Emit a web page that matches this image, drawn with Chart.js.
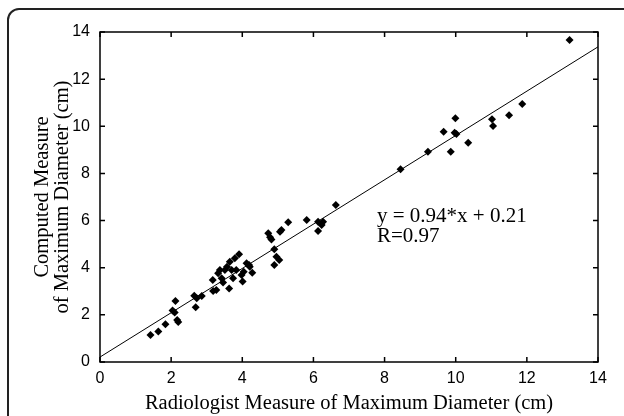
<!DOCTYPE html>
<html>
<head>
<meta charset="utf-8">
<script src="https://cdn.jsdelivr.net/npm/chart.js@4/dist/chart.umd.min.js"></script>
<style>
  html, body { margin: 0; padding: 0; background: #fff; overflow: hidden; }
  #wrap { position: relative; width: 624px; height: 416px; }
  #frame { position: absolute; left: 7px; top: 8px; width: 640px; height: 440px;
           border: 2px solid #222; border-radius: 12px; box-sizing: border-box; }
  canvas { position: absolute; left: 0; top: 0; }
</style>
</head>
<body>
<div id="wrap">
  <div id="frame"></div>
  <canvas id="canvasScatter" width="624" height="416"></canvas>
</div>
<script>
// radiologist measure (x) vs computed measure (y), cm
var radiologist = [1.42, 1.64, 1.84, 2.04, 2.10, 2.12, 2.17, 2.20,
  2.65, 2.69, 2.72, 2.86,
  3.17, 3.18, 3.27, 3.32, 3.37, 3.42, 3.46, 3.51, 3.57, 3.63, 3.65, 3.70, 3.74, 3.79, 3.83, 3.91, 3.98, 4.01, 4.04, 4.12, 4.19, 4.21, 4.28,
  4.73, 4.78, 4.82, 4.90, 4.96, 5.04, 4.90, 5.06, 5.10, 5.29, 5.81, 6.13, 6.23, 6.27, 6.13, 6.63,
  8.45, 9.22, 9.66, 9.86, 9.99, 9.97, 10.02, 10.35, 11.02, 11.05, 11.50, 11.87, 13.20];
var computed = [1.15, 1.29, 1.60, 2.18, 2.10, 2.59, 1.78, 1.70,
  2.81, 2.32, 2.70, 2.80,
  3.48, 3.01, 3.05, 3.76, 3.90, 3.55, 3.37, 3.90, 4.04, 3.12, 4.25, 3.90, 3.55, 4.40, 3.90, 4.57, 3.69, 3.41, 3.83, 4.19, 4.11, 4.04, 3.79,
  5.46, 5.29, 5.20, 4.78, 4.47, 4.33, 4.11, 5.53, 5.60, 5.93, 6.02, 5.95, 5.81, 5.95, 5.56, 6.66,
  8.18, 8.92, 9.77, 8.92, 10.34, 9.73, 9.67, 9.30, 10.30, 10.01, 10.47, 10.95, 13.66];
var tickValues = [0, 2, 4, 6, 8, 10, 12, 14];
var fitSlope = 0.94;
var fitIntercept = 0.21;
var fitRange = [0, 14];

var points = [];
for (var i in radiologist) {
  points.push({x: radiologist[i], y: computed[i]});
}
var fitLine = [];
for (var j in fitRange) {
  fitLine.push({x: fitRange[j], y: fitSlope * fitRange[j] + fitIntercept});
}

// box with inward ticks on all four sides, plus the fit text
var boxPlugin = {
  id: 'boxPlugin',
  afterDatasetsDraw: function(chart) {
    var ctx = chart.ctx, a = chart.chartArea;
    var xs = chart.scales.x, ys = chart.scales.y;
    ctx.save();
    ctx.strokeStyle = '#000';
    ctx.lineWidth = 1.5;
    ctx.strokeRect(a.left, a.top, a.right - a.left, a.bottom - a.top);
    ctx.beginPath();
    xs.ticks.forEach(function(t) {
      var px = xs.getPixelForValue(t.value);
      ctx.moveTo(px, a.bottom); ctx.lineTo(px, a.bottom - 5);
      ctx.moveTo(px, a.top); ctx.lineTo(px, a.top + 5);
    });
    ys.ticks.forEach(function(t) {
      var py = ys.getPixelForValue(t.value);
      ctx.moveTo(a.left, py); ctx.lineTo(a.left + 5, py);
      ctx.moveTo(a.right, py); ctx.lineTo(a.right - 5, py);
    });
    ctx.stroke();
    ctx.fillStyle = '#000';
    ctx.font = '21px "Liberation Serif"';
    ctx.textBaseline = 'alphabetic';
    ctx.fillText('y = 0.94*x + 0.21', 377, 222);
    ctx.fillText('R=0.97', 377, 242);
    ctx.restore();
  }
};

var ctx = document.getElementById('canvasScatter');
var chart = new Chart(ctx, {
  type: 'scatter',
  data: {
    datasets: [
      {
        label: 'Measurements',
        data: points,
        pointStyle: 'rectRot',
        pointRadius: 4,
        backgroundColor: '#000',
        borderColor: '#000',
        borderWidth: 0
      },
      {
        label: 'Fit',
        type: 'line',
        data: fitLine,
        borderColor: '#000',
        borderWidth: 1,
        pointRadius: 0,
        fill: false
      }
    ]
  },
  options: {
    responsive: false,
    animation: false,
    layout: { padding: { top: 32, right: 26, left: 0, bottom: 0 } },
    plugins: { legend: { display: false }, tooltip: { enabled: false } },
    scales: {
      x: {
        type: 'linear', min: 0, max: 14,
        afterBuildTicks: function(s) { s.ticks = tickValues.map(function(v) { return {value: v}; }); },
        afterFit: function(s) { s.height = 54; },
        grid: { display: false, drawTicks: false },
        border: { display: false },
        ticks: { color: '#000', padding: 7, maxRotation: 0, font: { family: 'Liberation Sans', size: 16 } },
        title: { display: true, text: 'Radiologist Measure of Maximum Diameter (cm)', color: '#000',
                 padding: { top: 0, bottom: 0 }, font: { family: 'Liberation Serif', size: 20.5 } }
      },
      y: {
        type: 'linear', min: 0, max: 14,
        afterBuildTicks: function(s) { s.ticks = tickValues.map(function(v) { return {value: v}; }); },
        afterFit: function(s) { s.width = 100; },
        grid: { display: false, drawTicks: false },
        border: { display: false },
        ticks: { color: '#000', padding: 10, font: { family: 'Liberation Sans', size: 16 } },
        title: { display: true, text: ['Computed Measure', 'of Maximum Diameter (cm)'], color: '#000',
                 padding: { top: 32, bottom: 0 }, font: { family: 'Liberation Serif', size: 20.5, lineHeight: 1.0 } }
      }
    }
  },
  plugins: [boxPlugin]
});
</script>
</body>
</html>
